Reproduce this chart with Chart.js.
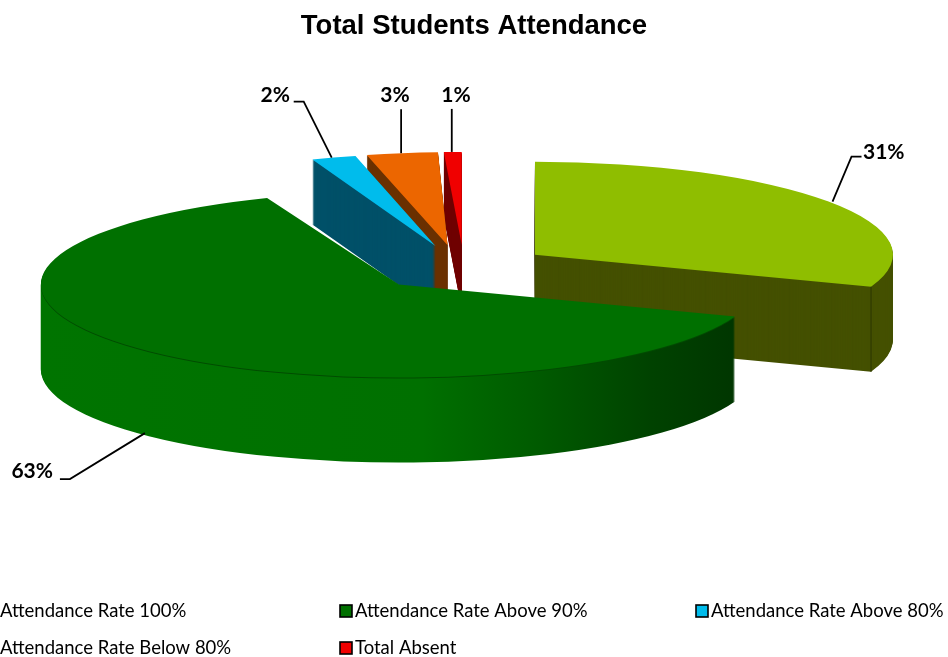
<!DOCTYPE html>
<html>
<head>
<meta charset="utf-8">
<style>html,body{margin:0;padding:0;background:#fff}canvas{display:block}</style>
<script src="https://cdn.jsdelivr.net/npm/chart.js@4"></script>
</head>
<body>
<canvas id="c" width="948" height="657"></canvas>
<script>
const categories = ['Attendance Rate 100%','Attendance Rate Above 90%','Attendance Rate Above 80%','Attendance Rate Below 80%','Total Absent'];
const attendanceShare = [30.6,63.4,2,3.2,0.8];
const topColors = ['#8FBE00','#007000','#00BCEC','#EC6600','#F00000'];
const wallColors = ['#445000','#007000','#005068','#6A3000','#700000'];

const pie = {cx:461, cy:268, rx:358, ry:93, explode:89};
const depths = [85,85,65,65,65];
const shears = [0,0,-0.1,-0.09,0];
const shifts = [1,0,2,0,3];
const drawOrder = [4,3,2,0,1];
const callouts = [
  {nudge:4, lift:0, elbow:[19,-45], end:[10,0], text:[863,152], align:'left'},
  {nudge:-4, lift:3, elbow:[-75,46], end:[-10,0], text:[53,471], align:'right', wall:true},
  {nudge:-2, lift:0, elbow:[-28,-56], end:[-10,0], text:[290,95], align:'right'},
  {nudge:-1, lift:0, elbow:[0,-44], end:[0,0], text:[395,95], align:'center'},
  {nudge:-1, lift:0, elbow:[0,-43], end:[0,0], text:[456,95], align:'center'}
];
const legendCols = [[0,0],[355,0],[711,0],[0,1],[355,1]];

function placement(el,i){
  const mid=(el.startAngle+el.endAngle)/2;
  const tx=pie.cx+Math.cos(mid)*pie.explode+shifts[i];
  const ty=pie.cy+Math.sin(mid)*pie.explode*pie.ry/pie.rx;
  return {tx,ty,sx:pie.rx/el.outerRadius,sy:pie.ry/el.outerRadius};
}
function project(el,i,angle,down){
  const p=placement(el,i);
  const lx=Math.cos(angle)*pie.rx, ly=Math.sin(angle)*pie.ry;
  return [p.tx+lx+shears[i]*ly, p.ty+ly+(down||0)];
}
const pie3d = {
  id:'pie3d',
  beforeDatasetsDraw(chart){
    const ctx=chart.ctx, arcs=chart.getDatasetMeta(0).data;
    const paint=(el,i,down,fill)=>{
      const p=placement(el,i), saved=el.options;
      ctx.save();
      ctx.translate(p.tx,p.ty+down);
      ctx.transform(1,0,shears[i],1,0,0);
      ctx.scale(p.sx,p.sy);
      ctx.translate(-el.x,-el.y);
      let style=fill;
      if(typeof fill==='function') style=fill(p,el);
      el.options=Object.assign({},saved,{backgroundColor:style,borderWidth:0});
      el.draw(ctx);
      el.options=saved;
      ctx.restore();
    };
    const greenWall=(p,el)=>{
      const toLocal=x=>(x-p.tx)/p.sx+el.x;
      const g=ctx.createLinearGradient(toLocal(40),0,toLocal(735),0);
      g.addColorStop(0,'#007400');
      g.addColorStop(0.55,'#007000');
      g.addColorStop(0.72,'#005a00');
      g.addColorStop(0.88,'#004200');
      g.addColorStop(1,'#003600');
      return g;
    };
    drawOrder.forEach(i=>{
      const el=arcs[i];
      for(let d=depths[i];d>=1;d--){
        let fill=(i===1)?greenWall:wallColors[i];
        if(i===1&&d===1) fill='#004c00';
        paint(el,i,d,fill);
      }
      paint(el,i,0,topColors[i]);
      if(i===0){
        const a=project(el,i,el.endAngle,0);
        ctx.save();ctx.strokeStyle='#2c3600';ctx.lineWidth=1;
        ctx.beginPath();ctx.moveTo(a[0],a[1]);ctx.lineTo(a[0],a[1]+depths[i]);ctx.stroke();ctx.restore();
      }
    });
    return false;
  },
  afterDraw(chart){
    const ctx=chart.ctx, arcs=chart.getDatasetMeta(0).data;
    ctx.save();
    arcs.forEach((el,i)=>{
      const c=callouts[i];
      const a=project(el,i,(el.startAngle+el.endAngle)/2,c.wall?depths[i]:0);
      a[0]+=c.nudge; a[1]-=c.lift;
      ctx.strokeStyle='#000';ctx.lineWidth=1.8;
      ctx.beginPath();ctx.moveTo(a[0],a[1]);
      const b=[a[0]+c.elbow[0],a[1]+c.elbow[1]];
      ctx.lineTo(b[0],b[1]);ctx.lineTo(b[0]+c.end[0],b[1]+c.end[1]);ctx.stroke();
      ctx.fillStyle='#000';ctx.font='bold 21px Lato';ctx.textAlign=c.align;ctx.textBaseline='middle';
      ctx.fillText(Math.round(attendanceShare[i])+'%',c.text[0],c.text[1]);
    });
    ctx.font='18.5px Lato';ctx.textAlign='left';ctx.textBaseline='middle';
    categories.forEach((name,i)=>{
      const x=legendCols[i][0], y=611+legendCols[i][1]*37;
      ctx.fillStyle=topColors[i];
      ctx.fillRect(x-15,y-6,12,12);
      ctx.strokeStyle='#000';ctx.lineWidth=1.6;
      ctx.strokeRect(x-15,y-6,12,12);
      ctx.fillStyle='#000';
      ctx.fillText(name,x,y);
    });
    ctx.restore();
  }
};
new Chart(document.getElementById('c'),{
  type:'pie',
  data:{labels:categories,datasets:[{data:attendanceShare,backgroundColor:topColors,borderWidth:0}]},
  options:{
    responsive:false,animation:false,events:[],
    layout:{padding:{top:0,bottom:60}},
    plugins:{
      legend:{display:false},tooltip:{enabled:false},
      title:{display:true,text:'Total Students Attendance',color:'#000',
        font:{family:'Liberation Sans',size:27.5,weight:'bold'},padding:{top:10,bottom:10}}
    }
  },
  plugins:[pie3d]
});
</script>
</body>
</html>
